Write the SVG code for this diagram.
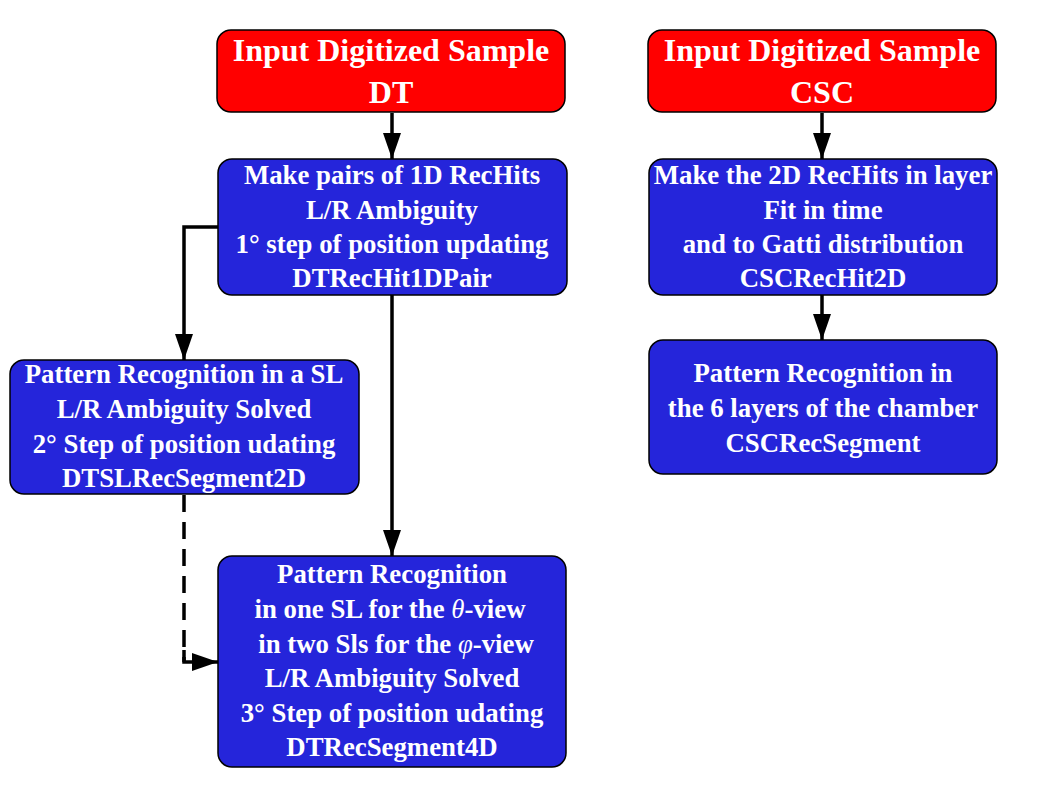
<svg xmlns="http://www.w3.org/2000/svg" width="1059" height="795" viewBox="0 0 1059 795">
<style>
.box{stroke:#000;stroke-width:1.5}
.red{fill:#ff0000}
.blue{fill:#2525da}
text{font-family:"Liberation Serif","Times New Roman",serif;font-weight:bold;fill:#fff;text-anchor:middle}
.t{font-size:32px}
.b{font-size:26.8px}
.m{font-style:italic;font-weight:normal}
.c{fill:none;stroke:#000;stroke-width:3.5}
.d{stroke-dasharray:17,10}
</style>
<defs>
<marker id="ah" markerUnits="userSpaceOnUse" markerWidth="26" markerHeight="18" refX="26" refY="9" orient="auto">
<path d="M0,0 L26,9 L0,18 z" fill="#000"/>
</marker>
</defs>
<rect width="1059" height="795" fill="#fff"/>
<g id="connectors">
<path class="c" d="M392,113 L392,159" marker-end="url(#ah)"/>
<path class="c" d="M392,295 L392,556" marker-end="url(#ah)"/>
<path class="c" d="M218,227 L184,227 L184,360" marker-end="url(#ah)"/>
<path class="c d" d="M184,495 L184,662"/>
<path class="c" d="M184,650 L184,662 L218,662" marker-end="url(#ah)"/>
<path class="c" d="M822,113 L822,159" marker-end="url(#ah)"/>
<path class="c" d="M822,295 L822,340" marker-end="url(#ah)"/>
</g>
<g id="input-dt">
<rect class="box red" x="217" y="30" width="348" height="82" rx="14"/>
<text class="t" x="391" y="61">Input Digitized Sample</text>
<text class="t" x="391" y="103">DT</text>
</g>
<g id="input-csc">
<rect class="box red" x="648" y="30" width="348" height="82" rx="14"/>
<text class="t" x="822" y="61">Input Digitized Sample</text>
<text class="t" x="822" y="103">CSC</text>
</g>
<g id="dt-rechit1dpair">
<rect class="box blue" x="218" y="159" width="349" height="136" rx="14"/>
<text class="b" x="392" y="184">Make pairs of 1D RecHits</text>
<text class="b" x="392" y="219">L/R Ambiguity</text>
<text class="b" x="392" y="253">1° step of position updating</text>
<text class="b" x="392" y="287">DTRecHit1DPair</text>
</g>
<g id="csc-rechit2d">
<rect class="box blue" x="649" y="159" width="348" height="136" rx="14"/>
<text class="b" x="823" y="184">Make the 2D RecHits in layer</text>
<text class="b" x="823" y="219">Fit in time</text>
<text class="b" x="823" y="253">and to Gatti distribution</text>
<text class="b" x="823" y="287">CSCRecHit2D</text>
</g>
<g id="csc-recsegment">
<rect class="box blue" x="649" y="340" width="348" height="134" rx="14"/>
<text class="b" x="823" y="382">Pattern Recognition in</text>
<text class="b" x="823" y="417">the 6 layers of the chamber</text>
<text class="b" x="823" y="452">CSCRecSegment</text>
</g>
<g id="dtsl-recsegment2d">
<rect class="box blue" x="10" y="360" width="349" height="134" rx="14"/>
<text class="b" x="184" y="383">Pattern Recognition in a SL</text>
<text class="b" x="184" y="418">L/R Ambiguity Solved</text>
<text class="b" x="184" y="453">2° Step of position udating</text>
<text class="b" x="184" y="487">DTSLRecSegment2D</text>
</g>
<g id="dt-recsegment4d">
<rect class="box blue" x="218" y="556" width="348" height="211" rx="14"/>
<text class="b" x="392" y="583">Pattern Recognition</text>
<text class="b" x="390" y="618">in one SL for the <tspan class="m">θ</tspan>-view</text>
<text class="b" x="396" y="653">in two Sls for the <tspan class="m">φ</tspan>-view</text>
<text class="b" x="392" y="687">L/R Ambiguity Solved</text>
<text class="b" x="392" y="722">3° Step of position udating</text>
<text class="b" x="392" y="756">DTRecSegment4D</text>
</g>
</svg>
